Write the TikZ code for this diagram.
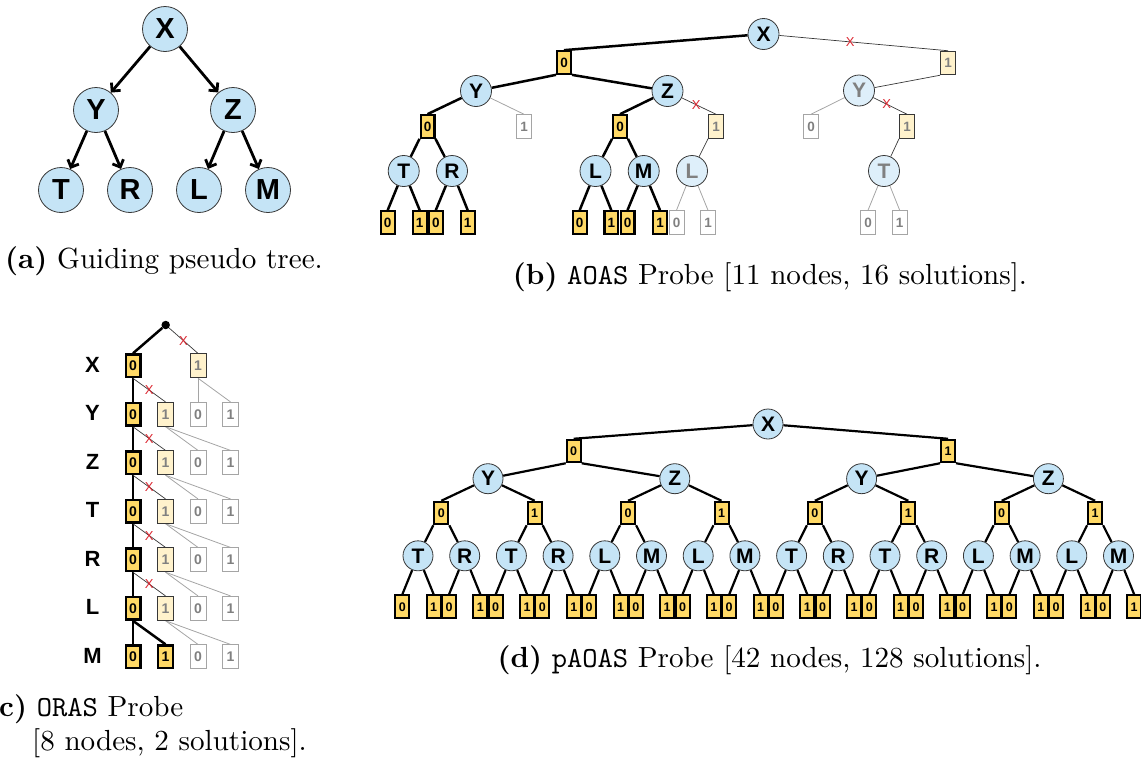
\documentclass[tikz,border=0pt]{standalone}
\usepackage{fontspec}
\usepackage{graphicx}
\newfontfamily\nodesf{Liberation Sans}
\usetikzlibrary{arrows.meta,backgrounds}

\definecolor{cfill}{RGB}{197,228,246}
\definecolor{cfade}{RGB}{222,239,250}
\definecolor{cline}{RGB}{55,55,55}
\definecolor{yfill}{RGB}{255,217,102}
\definecolor{yfade}{RGB}{255,242,204}
\definecolor{gline}{RGB}{165,165,165}
\definecolor{gtext}{RGB}{128,128,128}
\definecolor{xred}{RGB}{220,40,50}

\newcommand\capbox[1]{\scalebox{2.91}{\fontsize{10}{12}\selectfont #1}}

\tikzset{
  var/.style={circle, draw=cline, fill=cfill, line width=0.8pt, inner sep=0pt,
    minimum size=31pt, font=\nodesf\bfseries\fontsize{21}{21}\selectfont},
  varA/.style={var, minimum size=45pt, font=\nodesf\bfseries\fontsize{29}{29}\selectfont},
  varD/.style={var, minimum size=30pt},
  varfade/.style={var, fill=cfade, text=gtext},
  val/.style={rectangle, draw=black, fill=yfill, line width=2.2pt, inner sep=0pt,
    minimum width=13.8pt, minimum height=22.5pt, font=\nodesf\bfseries\fontsize{13.5}{13.5}\selectfont},
  valfade/.style={val, draw=cline, fill=yfade, line width=0.8pt,
    minimum width=15.2pt, minimum height=23.7pt, text=gtext},
  valgrey/.style={valfade, draw=gline, fill=white},
  valC/.style={val, line width=2.4pt, minimum width=14.6pt, minimum height=22.6pt,
    font=\nodesf\bfseries\fontsize{14}{14}\selectfont},
  valCfade/.style={valfade, minimum width=16.2pt, minimum height=24pt,
    font=\nodesf\bfseries\fontsize{14}{14}\selectfont},
  valCgrey/.style={valCfade, draw=gline, fill=white},
  valD/.style={val, line width=2pt, minimum width=14pt, minimum height=22.5pt,
    font=\nodesf\bfseries\fontsize{12.5}{12.5}\selectfont},
  live/.style={line width=2.5pt, black},
  liveD/.style={line width=2.2pt, black},
  cut/.style={line width=0.7pt, cline},
  dim/.style={line width=0.8pt, gline},
  xmark/.style={text=xred, font=\nodesf\fontsize{13}{13}\selectfont, inner sep=0pt},
  treearrow/.style={line width=2.8pt, -{Straight Barb[length=6pt,width=12pt]}},
  rowlab/.style={inner sep=0pt, font=\nodesf\bfseries\fontsize{22}{22}\selectfont},
  caption/.style={inner sep=0pt, anchor=base}
}

\begin{document}
\begin{tikzpicture}[x=1pt,y=-1pt]
\useasboundingbox (0,0) rectangle (1141,761);

% ---------- (a) guiding pseudo tree ----------
\node[varA] (aX) at (165,29) {X};
\node[varA] (aY) at (96,110) {Y};
\node[varA] (aZ) at (233,110) {Z};
\node[varA] (aT) at (61,190) {T};
\node[varA] (aR) at (130,190) {R};
\node[varA] (aL) at (199,190) {L};
\node[varA] (aM) at (268,190) {M};
\draw[treearrow] (aX) -- (aY);
\draw[treearrow] (aX) -- (aZ);
\draw[treearrow] (aY) -- (aT);
\draw[treearrow] (aY) -- (aR);
\draw[treearrow] (aZ) -- (aL);
\draw[treearrow] (aZ) -- (aM);
\node[caption] (capA) at (164,268) {\capbox{\textbf{(a)} Guiding pseudo tree.}};

% ---------- (b) AOAS probe ----------
\node[var] (bX) at (763.5,34) {X};
\node[val] (bX0) at (564,62.5) {0};
\node[valfade] (bX1) at (948,63) {1};
\node[var] (bY) at (476,91) {Y};
\node[var] (bZ) at (667.5,91) {Z};
\node[varfade] (bY2) at (859,90.5) {Y};
\node[val] (bY0) at (427.5,126.5) {0};
\node[valgrey] (bY1) at (524,126.5) {1};
\node[val] (bZ0) at (620,126.5) {0};
\node[valfade] (bZ1) at (716,126.5) {1};
\node[valgrey] (bYY0) at (811,126.5) {0};
\node[valfade] (bYY1) at (907,126.5) {1};
\node[var] (bT) at (403.7,171) {T};
\node[var] (bR) at (452,171) {R};
\node[var] (bL) at (595.5,171) {L};
\node[var] (bM) at (643.7,171) {M};
\node[varfade] (bL2) at (692,171) {L};
\node[varfade] (bT2) at (884,171) {T};
\node[val] (bT0) at (387.7,222.5) {0};
\node[val] (bT1) at (419.7,222.5) {1};
\node[val] (bR0) at (435.8,222.5) {0};
\node[val] (bR1) at (467.7,222.5) {1};
\node[val] (bL0) at (579.7,222.5) {0};
\node[val] (bL1) at (611.3,222.5) {1};
\node[val] (bM0) at (627.5,222.5) {0};
\node[val] (bM1) at (660,222.5) {1};
\node[valgrey] (bLL0) at (676.5,222.5) {0};
\node[valgrey] (bLL1) at (708,222.5) {1};
\node[valgrey] (bTT0) at (868,222.5) {0};
\node[valgrey] (bTT1) at (899.7,222.5) {1};
\node[caption] (capB) at (770,284) {\capbox{\textbf{(b)} \texttt{AOAS} Probe [11 nodes, 16 solutions].}};

% ---------- (c) ORAS probe ----------
\node[circle, fill=black, inner sep=0pt, minimum size=8.5pt] (croot) at (165.7,325) {};
\foreach \k/\lab/\yy in {1/X/365.8, 2/Y/414.3, 3/Z/462.8, 4/T/511.3, 5/R/559.8, 6/L/608.3, 7/M/656.8} {
  \node[rowlab] (cl\k) at (92.5,\yy-1.3) {\lab};
  \node[valC] (c\k-a) at (133,\yy) {0};
}
\node[valCfade] (c1-c) at (198,365.8) {1};
\foreach \k/\yy in {2/414.3, 3/462.8, 4/511.3, 5/559.8, 6/608.3} {
  \node[valCfade] (c\k-b) at (165.5,\yy) {1};
}
\node[valC] (c7-b) at (165.5,656.8) {1};
\foreach \k/\yy in {2/414.3, 3/462.8, 4/511.3, 5/559.8, 6/608.3, 7/656.8} {
  \node[valCgrey] (c\k-c) at (198,\yy) {0};
  \node[valCgrey] (c\k-d) at (230.5,\yy) {1};
}
\node[caption, anchor=base west] (capC1) at (-14,716) {\capbox{\textbf{(c)} \texttt{ORAS} Probe}};
\node[caption, anchor=base west] (capC2) at (32,750) {\capbox{[8 nodes, 2 solutions].}};

% ---------- (d) pAOAS probe ----------
\node[varD] (dX) at (768,424) {X};
\node[valD] (d1-0) at (573.7,451) {0};
\node[valD] (d1-1) at (948,451) {1};
\foreach \k/\lab in {0/Y,1/Z,2/Y,3/Z} {
  \node[varD] (d2-\k) at ({488+186.8*\k},478.7) {\lab};
}
\foreach \j in {0,...,7} {
  \pgfmathtruncatemacro\v{mod(\j,2)}
  \node[valD] (d3-\j) at ({441.3+93.4*\j},513) {\v};
}
\foreach \i/\lab in {0/T,1/R,2/T,3/R,4/L,5/M,6/L,7/M,8/T,9/R,10/T,11/R,12/L,13/M,14/L,15/M} {
  \node[varD] (d4-\i) at ({418+46.7*\i},555.8) {\lab};
  \node[valD] (d5-\i-0) at ({418+46.7*\i-15.7},606.7) {0};
  \node[valD] (d5-\i-1) at ({418+46.7*\i+15.7},606.7) {1};
}
\node[caption] (capD) at (769.5,667) {\capbox{\textbf{(d)} \texttt{pAOAS} Probe [42 nodes, 128 solutions].}};

% ---------- connectors, kept behind the nodes ----------
\begin{pgfonlayer}{background}
  % (b)
  \draw[live] (bX) -- (bX0.north);
  \draw[cut] (bX) -- node[xmark, pos=0.42]{X} (bX1.north);
  \draw[live] (bX0.south west) -- (bY);
  \draw[live] (bX0.south east) -- (bZ);
  \draw[cut] (bX1.south west) -- (bY2);
  \draw[live] (bY) -- (bY0.north);
  \draw[dim] (bY) -- (bY1.north);
  \draw[live] (bZ) -- (bZ0.north);
  \draw[cut] (bZ) -- node[xmark, pos=0.42]{X} (bZ1.north);
  \draw[dim] (bY2) -- (bYY0.north);
  \draw[cut] (bY2) -- node[xmark, pos=0.4]{X} (bYY1.north);
  \draw[live] (bY0.south west) -- (bT);
  \draw[live] (bY0.south east) -- (bR);
  \draw[live] (bZ0.south west) -- (bL);
  \draw[live] (bZ0.south east) -- (bM);
  \draw[cut] (bZ1.south west) -- (bL2);
  \draw[cut] (bYY1.south west) -- (bT2);
  \foreach \n in {T,R,L,M} {
    \draw[live] (b\n) -- (b\n0.north);
    \draw[live] (b\n) -- (b\n1.north);
  }
  \draw[dim] (bL2) -- (bLL0.north);
  \draw[dim] (bL2) -- (bLL1.north);
  \draw[dim] (bT2) -- (bTT0.north);
  \draw[dim] (bT2) -- (bTT1.north);

  % (c)
  \draw[live] (croot) -- (c1-a.north);
  \draw[cut] (croot) -- node[xmark]{X} (c1-c.north);
  \draw[live] (c1-a.south) -- (c2-a.north);
  \draw[cut] (c1-a.south) -- node[xmark]{X} (c2-b.north);
  \draw[dim] (c1-c.south) -- (c2-c.north);
  \draw[dim] (c1-c.south) -- (c2-d.north);
  \foreach \k in {2,...,5} {
    \pgfmathtruncatemacro\nx{\k+1}
    \draw[live] (c\k-a.south) -- (c\nx-a.north);
    \draw[cut] (c\k-a.south) -- node[xmark]{X} (c\nx-b.north);
    \draw[dim] (c\k-b.south) -- (c\nx-c.north);
    \draw[dim] (c\k-b.south) -- (c\nx-d.north);
  }
  \draw[live] (c6-a.south) -- (c7-a.north);
  \draw[live] (c6-a.south) -- (c7-b.north);
  \draw[dim] (c6-b.south) -- (c7-c.north);
  \draw[dim] (c6-b.south) -- (c7-d.north);

  % (d)
  \draw[liveD] (dX) -- (d1-0.north);
  \draw[liveD] (dX) -- (d1-1.north);
  \draw[liveD] (d1-0.south west) -- (d2-0);
  \draw[liveD] (d1-0.south east) -- (d2-1);
  \draw[liveD] (d1-1.south west) -- (d2-2);
  \draw[liveD] (d1-1.south east) -- (d2-3);
  \foreach \k in {0,...,3} {
    \pgfmathtruncatemacro\ja{2*\k}
    \pgfmathtruncatemacro\jb{2*\k+1}
    \draw[liveD] (d2-\k) -- (d3-\ja.north);
    \draw[liveD] (d2-\k) -- (d3-\jb.north);
  }
  \foreach \j in {0,...,7} {
    \pgfmathtruncatemacro\ia{2*\j}
    \pgfmathtruncatemacro\ib{2*\j+1}
    \draw[liveD] (d3-\j.south west) -- (d4-\ia);
    \draw[liveD] (d3-\j.south east) -- (d4-\ib);
  }
  \foreach \i in {0,...,15} {
    \draw[liveD] (d4-\i) -- (d5-\i-0.north);
    \draw[liveD] (d4-\i) -- (d5-\i-1.north);
  }
\end{pgfonlayer}
\end{tikzpicture}
\end{document}
